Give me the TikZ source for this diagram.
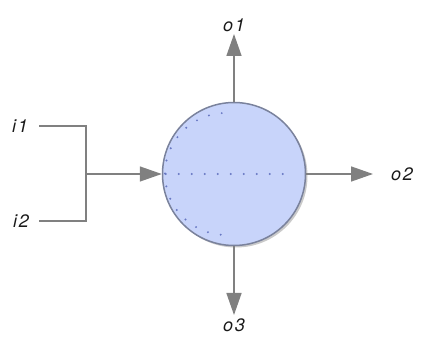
\documentclass[tikz,border=0pt]{standalone}
\usepackage{fontspec}
\setmainfont{TeX Gyre Heros}
\newfontfamily\portfont[LetterSpace=10]{TeX Gyre Heros}
\usetikzlibrary{positioning, arrows.meta, shadows}

\definecolor{procfill}{RGB}{200,212,250}
\definecolor{procedge}{RGB}{122,130,156}
\definecolor{wire}{RGB}{128,128,128}
\definecolor{dotblue}{RGB}{104,120,195}

\tikzset{
	proc/.style={circle, draw=procedge, line width=1.5pt, fill=procfill,
		minimum size=143pt, inner sep=0pt,
		drop shadow={shadow xshift=2pt, shadow yshift=-2pt, opacity=0.35, fill=black!60}},
	port/.style={inner sep=1pt, font=\fontsize{18}{21}\portfont\itshape, text=black!90},
	wirearrow/.style={draw=wire, line width=1.5pt, -{Triangle[length=22pt, width=15pt]}},
	wireline/.style={draw=wire, line width=1.5pt},
	guide/.style={dotblue, line width=2.2pt, line cap=round, dash pattern=on 0pt off 13pt}
}

\begin{document}
\begin{tikzpicture}[x=1pt, y=1pt]
	\useasboundingbox (0,0) rectangle (421,345);

	\node[proc] (p) at (234,171) {};
	\draw[guide] ([xshift=4pt]p.west) -- ++(126,0);
	\draw[guide] (p.center) ++(-8,0) ++(94:61) arc (94:266:61);

	\coordinate (t1) at (234,311);
	\coordinate (t2) at (373,171);
	\coordinate (t3) at (234,30);
	\coordinate (j) at (86,171);

	\node[port, above=1pt of t1] (o1) {o1};
	\node[port, right=17pt of t2] (o2) {o2};
	\node[port, below=3pt of t3] (o3) {o3};
	\node[port] (i1) at (20,219) {i1};
	\node[port] (i2) at (21,124) {i2};

	\draw[wirearrow] (p.north) -- (t1);
	\draw[wirearrow] (p.east) -- (t2);
	\draw[wirearrow] (p.south) -- (t3);
	\draw[wireline] ([xshift=10pt]i1.east) -| (j) |- ([xshift=9pt]i2.east);
	\draw[wirearrow] (j) -- (p.west);
\end{tikzpicture}
\end{document}
